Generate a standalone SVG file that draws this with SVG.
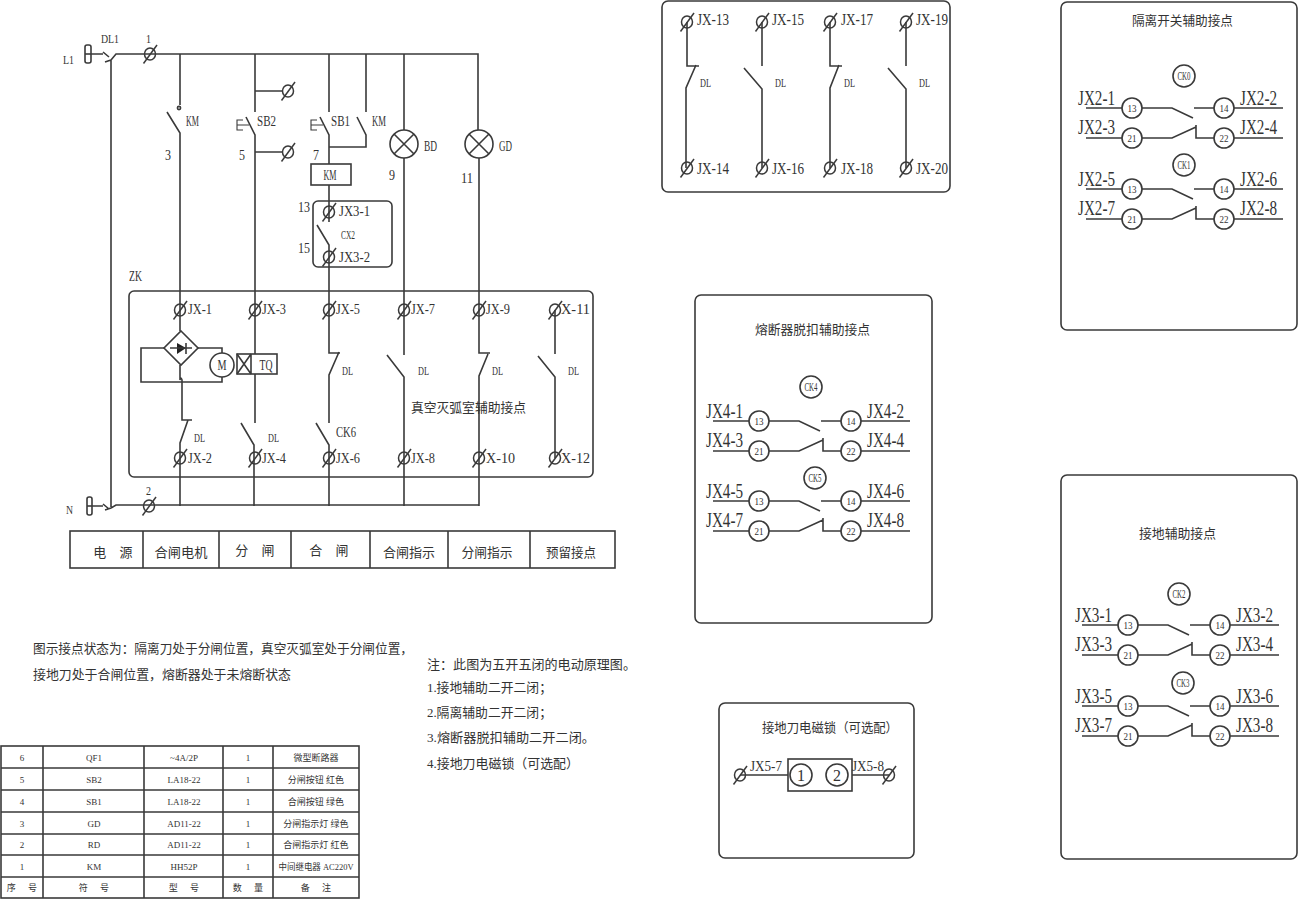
<svg xmlns="http://www.w3.org/2000/svg" width="1300" height="899" viewBox="0 0 1300 899">
<style>
.w{fill:none;stroke:#3a3a3a;stroke-width:1.6}
.b{fill:none;stroke:#3a3a3a;stroke-width:1.6}
.o{fill:#fff;stroke:#3a3a3a;stroke-width:1.6}
.t{stroke:#3a3a3a;stroke-width:1.5;fill:none}
.thin{stroke:#3a3a3a;stroke-width:1.1;fill:none}
text{fill:#333}
.l{font-family:"Liberation Serif","DejaVu Serif",serif}
.c{font-family:"Liberation Serif","Noto Sans CJK SC",sans-serif;font-size:13px}
.m{text-anchor:middle}
.s9{font-size:9px}.s10{font-size:11px}.s11{font-size:13px}.s12{font-size:13px}.s13{font-size:15px}.s14{font-size:15px}.s15{font-size:16px}.s20{font-size:20px}
.sp{word-spacing:10px}
.tc{font-size:9px;text-anchor:middle}
</style>
<defs>
<g id="term"><ellipse cx="0" cy="0" rx="5.5" ry="6" class="t"/><path d="M-6.5 9.5 7 -9" class="t"/></g>
<g id="cc">
<path class="w" d="M0 0H36M56 0H86L107 10M108 0H128M148 0H197M0 30H36M56 30H86L110 19M110 17V30H128M148 30H197"/>
<circle cx="46" cy="0" r="10" class="o"/><circle cx="46" cy="30" r="10" class="o"/><circle cx="138" cy="0" r="10" class="o"/><circle cx="138" cy="30" r="10" class="o"/>
</g>
</defs>
<rect width="1300" height="899" fill="#fff"/>

<g id="connectors">
<path class="w" d="M91 54H103M103 52L109 57M111 60L105 62M111 60L116 54H478V130M111 60V507M92 506H103M103 504L109 509M111 508L105 510M111 508L116 505H479"/>
<path class="w" d="M180 54V105M167 112L180 133V331M180 365V380Q181 376 182 380V420H192M188 420L180 443V506"/>
<path class="w" d="M255 54V112M246 117L255 135V354M255 374V423M241 423L254 445V506M255 91H283M255 152H283"/>
<path class="w" d="M329 54V112M320 117L329 135V164M329 185V222M317 225L329 245V353H340M339 352L329 375V423M316 423L329 445V506"/>
<path class="w" d="M366 54V112M357 117L366 135V147H329"/>
<path class="w" d="M404 54V130M404 158V355M387 355L404 377V506"/>
<path class="w" d="M479 158V353H490M488 354L479 376V506"/>
<path class="w" d="M555 310V354M538 356L555 377V458"/>
<path class="w" d="M164 348H141V382H222V377M198 348H222V353"/>
<path class="w" d="M687 22V66H699M696 65L686 88V168M762 22V66M744 68L762 89V168M830 22V66H842M839 65L830 88V168M906 22V66M888 68L906 89V168"/>
<path class="w" d="M740 775H788M852 775H889"/>
</g>

<g id="L1-source">
<rect x="85" y="45" width="6" height="18" rx="2" class="o"/><path class="w" d="M85 54H91"/>
<text class="l s11" x="63" y="64" textLength="11" lengthAdjust="spacingAndGlyphs">L1</text>
<text class="l s11" x="101" y="43" textLength="18" lengthAdjust="spacingAndGlyphs">DL1</text>
<text class="l s11" x="146" y="43" textLength="5" lengthAdjust="spacingAndGlyphs">1</text>
<use href="#term" x="150" y="54"/>
</g>
<g id="N-source">
<rect x="87" y="497" width="5" height="18" rx="2" class="o"/><path class="w" d="M87 506H92"/>
<text class="l s11" x="66" y="514" textLength="7" lengthAdjust="spacingAndGlyphs">N</text>
<text class="l s11" x="146" y="495" textLength="5" lengthAdjust="spacingAndGlyphs">2</text>
<use href="#term" x="149" y="506"/>
</g>
<g id="KM3">
<circle cx="179" cy="108" r="1.6" class="w"/>
<text class="l s13" x="186" y="126" textLength="13" lengthAdjust="spacingAndGlyphs">KM</text>
<text class="l s13" x="165" y="160" textLength="6" lengthAdjust="spacingAndGlyphs">3</text>
</g>
<g id="SB2">
<path class="thin" d="M243 120H237V130H243M237 125H249"/>
<text class="l s14" x="257" y="126" textLength="19" lengthAdjust="spacingAndGlyphs">SB2</text>
<text class="l s13" x="239" y="160" textLength="6" lengthAdjust="spacingAndGlyphs">5</text>
<use href="#term" x="288" y="91"/><use href="#term" x="288" y="152"/>
</g>
<g id="SB1">
<path class="thin" d="M317 120H311V130H317M311 125H323"/>
<text class="l s14" x="331" y="126" textLength="19" lengthAdjust="spacingAndGlyphs">SB1</text>
<text class="l s13" x="372" y="126" textLength="14" lengthAdjust="spacingAndGlyphs">KM</text>
<text class="l s13" x="313" y="160" textLength="6" lengthAdjust="spacingAndGlyphs">7</text>
</g>
<g id="KM-coil">
<rect x="311" y="164" width="40" height="21" class="o"/>
<text class="l s13 m" x="330" y="180" textLength="13" lengthAdjust="spacingAndGlyphs">KM</text>
</g>
<g id="BD">
<circle cx="404" cy="144" r="14" class="o"/><path class="w" d="M394 134L414 154M414 134L394 154"/>
<text class="l s13" x="424" y="151" textLength="13" lengthAdjust="spacingAndGlyphs">BD</text>
<text class="l s13" x="389" y="180" textLength="6" lengthAdjust="spacingAndGlyphs">9</text>
</g>
<g id="GD">
<circle cx="479" cy="144" r="14" class="o"/><path class="w" d="M469 134L489 154M489 134L469 154"/>
<text class="l s13" x="499" y="151" textLength="13" lengthAdjust="spacingAndGlyphs">GD</text>
<text class="l s14" x="461" y="183" textLength="12" lengthAdjust="spacingAndGlyphs">11</text>
</g>
<g id="CK2-box">
<rect x="313" y="201" width="79" height="66" rx="5" class="b"/>
<use href="#term" x="329" y="212"/><use href="#term" x="329" y="257"/>
<text class="l s13" x="339" y="216" textLength="31" lengthAdjust="spacingAndGlyphs">JX3-1</text>
<text class="l s13" x="339" y="262" textLength="31" lengthAdjust="spacingAndGlyphs">JX3-2</text>
<text class="l s11" x="341" y="239" textLength="14" lengthAdjust="spacingAndGlyphs">CX2</text>
<text class="l s13" x="298" y="212" textLength="12" lengthAdjust="spacingAndGlyphs">13</text>
<text class="l s13" x="298" y="253" textLength="12" lengthAdjust="spacingAndGlyphs">15</text>
</g>
<g id="ZK">
<rect x="129" y="291" width="464" height="186" rx="5" class="b"/>
<text class="l s13" x="129" y="281" textLength="13" lengthAdjust="spacingAndGlyphs">ZK</text>
<use href="#term" x="180" y="310"/><use href="#term" x="255" y="310"/><use href="#term" x="329" y="310"/><use href="#term" x="404" y="310"/><use href="#term" x="479" y="310"/><use href="#term" x="555" y="310"/>
<use href="#term" x="180" y="458"/><use href="#term" x="255" y="458"/><use href="#term" x="329" y="458"/><use href="#term" x="404" y="458"/><use href="#term" x="479" y="458"/><use href="#term" x="555" y="458"/>
<text class="l s14" x="188" y="314" textLength="24" lengthAdjust="spacingAndGlyphs">JX-1</text>
<text class="l s14" x="262" y="314" textLength="24" lengthAdjust="spacingAndGlyphs">JX-3</text>
<text class="l s14" x="336" y="314" textLength="24" lengthAdjust="spacingAndGlyphs">JX-5</text>
<text class="l s14" x="411" y="314" textLength="24" lengthAdjust="spacingAndGlyphs">JX-7</text>
<text class="l s14" x="486" y="314" textLength="24" lengthAdjust="spacingAndGlyphs">JX-9</text>
<text class="l s14" x="561" y="314" textLength="29" lengthAdjust="spacingAndGlyphs">X-11</text>
<text class="l s14" x="188" y="463" textLength="24" lengthAdjust="spacingAndGlyphs">JX-2</text>
<text class="l s14" x="262" y="463" textLength="24" lengthAdjust="spacingAndGlyphs">JX-4</text>
<text class="l s14" x="336" y="463" textLength="24" lengthAdjust="spacingAndGlyphs">JX-6</text>
<text class="l s14" x="411" y="463" textLength="24" lengthAdjust="spacingAndGlyphs">JX-8</text>
<text class="l s14" x="486" y="463" textLength="29" lengthAdjust="spacingAndGlyphs">X-10</text>
<text class="l s14" x="561" y="463" textLength="29" lengthAdjust="spacingAndGlyphs">X-12</text>
<text class="l s12" x="194" y="442" textLength="11" lengthAdjust="spacingAndGlyphs">DL</text>
<text class="l s12" x="268" y="442" textLength="11" lengthAdjust="spacingAndGlyphs">DL</text>
<text class="l s14" x="336" y="437" textLength="20" lengthAdjust="spacingAndGlyphs">CK6</text>
<text class="l s12" x="342" y="375" textLength="11" lengthAdjust="spacingAndGlyphs">DL</text>
<text class="l s12" x="418" y="375" textLength="11" lengthAdjust="spacingAndGlyphs">DL</text>
<text class="l s12" x="492" y="375" textLength="11" lengthAdjust="spacingAndGlyphs">DL</text>
<text class="l s12" x="568" y="375" textLength="11" lengthAdjust="spacingAndGlyphs">DL</text>
<text class="c" x="411" y="412" textLength="115" lengthAdjust="spacingAndGlyphs">真空灭弧室辅助接点</text>
</g>
<g id="bridge">
<path class="o" d="M181 331L198 348L181 365L164 348Z"/>
<path d="M177 343L186 348L177 354Z" fill="#222"/><path class="w" d="M186 343V354M170 348H192"/>
</g>
<g id="motor">
<circle cx="222" cy="365" r="12" class="o"/>
<text class="l s13 m" x="222" y="370" textLength="9" lengthAdjust="spacingAndGlyphs">M</text>
</g>
<g id="TQ">
<rect x="237" y="354" width="40" height="20" class="o"/>
<path class="w" d="M251 354V374M237 354L251 374M251 354L237 374"/>
<text class="l s13 m" x="266" y="370" textLength="13" lengthAdjust="spacingAndGlyphs">TQ</text>
</g>
<g id="function-table">
<rect x="70" y="531" width="545" height="37" class="b"/>
<path class="b" d="M143 531V568M219 531V568M291 531V568M370 531V568M448 531V568M530 531V568"/>
<text class="c m sp" x="113" y="557">电 源</text>
<text class="c m" x="181" y="557" textLength="53" lengthAdjust="spacingAndGlyphs">合闸电机</text>
<text class="c m sp" x="255" y="555">分 闸</text>
<text class="c m sp" x="329" y="555">合 闸</text>
<text class="c m" x="409" y="557" textLength="52" lengthAdjust="spacingAndGlyphs">合闸指示</text>
<text class="c m" x="487" y="557" textLength="51" lengthAdjust="spacingAndGlyphs">分闸指示</text>
<text class="c m" x="571" y="557" textLength="50" lengthAdjust="spacingAndGlyphs">预留接点</text>
</g>

<g id="notes">
<text class="c" x="33" y="653" textLength="380" lengthAdjust="spacingAndGlyphs">图示接点状态为：隔离刀处于分闸位置，真空灭弧室处于分闸位置，</text>
<text class="c" x="33" y="679" textLength="258" lengthAdjust="spacingAndGlyphs">接地刀处于合闸位置，熔断器处于未熔断状态</text>
<text class="c" x="427" y="669" textLength="209" lengthAdjust="spacingAndGlyphs">注：此图为五开五闭的电动原理图。</text>
<text class="c" x="427" y="692" textLength="125" lengthAdjust="spacingAndGlyphs">1.接地辅助二开二闭；</text>
<text class="c" x="427" y="717" textLength="125" lengthAdjust="spacingAndGlyphs">2.隔离辅助二开二闭；</text>
<text class="c" x="427" y="742" textLength="168" lengthAdjust="spacingAndGlyphs">3.熔断器脱扣辅助二开二闭。</text>
<text class="c" x="427" y="768" textLength="152" lengthAdjust="spacingAndGlyphs">4.接地刀电磁锁（可选配）</text>
</g>

<g id="parts-table">
<rect x="1" y="746" width="358" height="152" class="b"/>
<path class="b" d="M43 746V898M144 746V898M223 746V898M273 746V898M1 768H359M1 790H359M1 812H359M1 834H359M1 855H359M1 877H359"/>
<g class="l">
<text class="tc" x="22" y="761">6</text><text class="tc" x="94" y="761">QF1</text><text class="tc" x="184" y="761">~4A/2P</text><text class="tc" x="248" y="761">1</text>
<text class="tc" x="22" y="783">5</text><text class="tc" x="94" y="783">SB2</text><text class="tc" x="184" y="783">LA18-22</text><text class="tc" x="248" y="783">1</text>
<text class="tc" x="22" y="805">4</text><text class="tc" x="94" y="805">SB1</text><text class="tc" x="184" y="805">LA18-22</text><text class="tc" x="248" y="805">1</text>
<text class="tc" x="22" y="827">3</text><text class="tc" x="94" y="827">GD</text><text class="tc" x="184" y="827">AD11-22</text><text class="tc" x="248" y="827">1</text>
<text class="tc" x="22" y="848">2</text><text class="tc" x="94" y="848">RD</text><text class="tc" x="184" y="848">AD11-22</text><text class="tc" x="248" y="848">1</text>
<text class="tc" x="22" y="870">1</text><text class="tc" x="94" y="870">KM</text><text class="tc" x="184" y="870">HH52P</text><text class="tc" x="248" y="870">1</text>
</g>
<g style="font-family:'Liberation Serif','Noto Sans CJK SC',sans-serif">
<text class="tc" x="316" y="761">微型断路器</text>
<text class="tc" x="316" y="783">分闸按钮 红色</text>
<text class="tc" x="316" y="805">合闸按钮 绿色</text>
<text class="tc" x="316" y="827">分闸指示灯 绿色</text>
<text class="tc" x="316" y="848">合闸指示灯 红色</text>
<text class="tc" x="316" y="870" textLength="75" lengthAdjust="spacingAndGlyphs">中间继电器 AC220V</text>
<text class="tc sp" x="22" y="891">序 号</text>
<text class="tc sp" x="94" y="891">符 号</text>
<text class="tc sp" x="184" y="891">型 号</text>
<text class="tc sp" x="248" y="891">数 量</text>
<text class="tc sp" x="316" y="891">备 注</text>
</g>
</g>

<g id="panel-JX13-20">
<rect x="662" y="1" width="288" height="191" rx="6" class="b"/>
<use href="#term" x="687" y="22"/><use href="#term" x="762" y="22"/><use href="#term" x="830" y="22"/><use href="#term" x="906" y="22"/>
<use href="#term" x="687" y="168"/><use href="#term" x="762" y="168"/><use href="#term" x="830" y="168"/><use href="#term" x="906" y="168"/>
<text class="l s15" x="697" y="25" textLength="32" lengthAdjust="spacingAndGlyphs">JX-13</text>
<text class="l s15" x="772" y="25" textLength="32" lengthAdjust="spacingAndGlyphs">JX-15</text>
<text class="l s15" x="841" y="25" textLength="32" lengthAdjust="spacingAndGlyphs">JX-17</text>
<text class="l s15" x="916" y="25" textLength="32" lengthAdjust="spacingAndGlyphs">JX-19</text>
<text class="l s15" x="697" y="174" textLength="32" lengthAdjust="spacingAndGlyphs">JX-14</text>
<text class="l s15" x="772" y="174" textLength="32" lengthAdjust="spacingAndGlyphs">JX-16</text>
<text class="l s15" x="841" y="174" textLength="32" lengthAdjust="spacingAndGlyphs">JX-18</text>
<text class="l s15" x="916" y="174" textLength="32" lengthAdjust="spacingAndGlyphs">JX-20</text>
<text class="l s12" x="700" y="87" textLength="11" lengthAdjust="spacingAndGlyphs">DL</text>
<text class="l s12" x="775" y="87" textLength="11" lengthAdjust="spacingAndGlyphs">DL</text>
<text class="l s12" x="844" y="87" textLength="11" lengthAdjust="spacingAndGlyphs">DL</text>
<text class="l s12" x="919" y="87" textLength="11" lengthAdjust="spacingAndGlyphs">DL</text>
</g>

<g id="panel-isolator">
<rect x="1061" y="2" width="236" height="328" rx="6" class="b"/>
<text class="c" x="1132" y="25" textLength="101" lengthAdjust="spacingAndGlyphs">隔离开关辅助接点</text>
<circle cx="1184" cy="76" r="11" class="o"/><text class="l s12 m" x="1184" y="80" textLength="13" lengthAdjust="spacingAndGlyphs">CK0</text>
<circle cx="1184" cy="165" r="11" class="o"/><text class="l s12 m" x="1184" y="169" textLength="13" lengthAdjust="spacingAndGlyphs">CK1</text>
<g transform="translate(1086 108)"><use href="#cc"/>
<text class="l s20" x="-8" y="-3" textLength="37" lengthAdjust="spacingAndGlyphs">JX2-1</text><text class="l s20" x="-8" y="26" textLength="37" lengthAdjust="spacingAndGlyphs">JX2-3</text>
<text class="l s20" x="154" y="-3" textLength="37" lengthAdjust="spacingAndGlyphs">JX2-2</text><text class="l s20" x="154" y="26" textLength="37" lengthAdjust="spacingAndGlyphs">JX2-4</text>
<text class="l s10 m" x="46" y="4" textLength="9" lengthAdjust="spacingAndGlyphs">13</text><text class="l s10 m" x="46" y="34" textLength="9" lengthAdjust="spacingAndGlyphs">21</text>
<text class="l s10 m" x="138" y="4" textLength="9" lengthAdjust="spacingAndGlyphs">14</text><text class="l s10 m" x="138" y="34" textLength="9" lengthAdjust="spacingAndGlyphs">22</text>
</g>
<g transform="translate(1086 189)"><use href="#cc"/>
<text class="l s20" x="-8" y="-3" textLength="37" lengthAdjust="spacingAndGlyphs">JX2-5</text><text class="l s20" x="-8" y="26" textLength="37" lengthAdjust="spacingAndGlyphs">JX2-7</text>
<text class="l s20" x="154" y="-3" textLength="37" lengthAdjust="spacingAndGlyphs">JX2-6</text><text class="l s20" x="154" y="26" textLength="37" lengthAdjust="spacingAndGlyphs">JX2-8</text>
<text class="l s10 m" x="46" y="4" textLength="9" lengthAdjust="spacingAndGlyphs">13</text><text class="l s10 m" x="46" y="34" textLength="9" lengthAdjust="spacingAndGlyphs">21</text>
<text class="l s10 m" x="138" y="4" textLength="9" lengthAdjust="spacingAndGlyphs">14</text><text class="l s10 m" x="138" y="34" textLength="9" lengthAdjust="spacingAndGlyphs">22</text>
</g>
</g>

<g id="panel-fuse">
<rect x="695" y="295" width="237" height="328" rx="6" class="b"/>
<text class="c" x="755" y="334" textLength="115" lengthAdjust="spacingAndGlyphs">熔断器脱扣辅助接点</text>
<circle cx="811" cy="387" r="11" class="o"/><text class="l s12 m" x="811" y="391" textLength="13" lengthAdjust="spacingAndGlyphs">CK4</text>
<circle cx="815" cy="478" r="11" class="o"/><text class="l s12 m" x="815" y="482" textLength="13" lengthAdjust="spacingAndGlyphs">CK5</text>
<g transform="translate(713 421)"><use href="#cc"/>
<text class="l s20" x="-7" y="-3" textLength="37" lengthAdjust="spacingAndGlyphs">JX4-1</text><text class="l s20" x="-7" y="26" textLength="37" lengthAdjust="spacingAndGlyphs">JX4-3</text>
<text class="l s20" x="154" y="-3" textLength="37" lengthAdjust="spacingAndGlyphs">JX4-2</text><text class="l s20" x="154" y="26" textLength="37" lengthAdjust="spacingAndGlyphs">JX4-4</text>
<text class="l s10 m" x="46" y="4" textLength="9" lengthAdjust="spacingAndGlyphs">13</text><text class="l s10 m" x="46" y="34" textLength="9" lengthAdjust="spacingAndGlyphs">21</text>
<text class="l s10 m" x="138" y="4" textLength="9" lengthAdjust="spacingAndGlyphs">14</text><text class="l s10 m" x="138" y="34" textLength="9" lengthAdjust="spacingAndGlyphs">22</text>
</g>
<g transform="translate(713 501)"><use href="#cc"/>
<text class="l s20" x="-7" y="-3" textLength="37" lengthAdjust="spacingAndGlyphs">JX4-5</text><text class="l s20" x="-7" y="26" textLength="37" lengthAdjust="spacingAndGlyphs">JX4-7</text>
<text class="l s20" x="154" y="-3" textLength="37" lengthAdjust="spacingAndGlyphs">JX4-6</text><text class="l s20" x="154" y="26" textLength="37" lengthAdjust="spacingAndGlyphs">JX4-8</text>
<text class="l s10 m" x="46" y="4" textLength="9" lengthAdjust="spacingAndGlyphs">13</text><text class="l s10 m" x="46" y="34" textLength="9" lengthAdjust="spacingAndGlyphs">21</text>
<text class="l s10 m" x="138" y="4" textLength="9" lengthAdjust="spacingAndGlyphs">14</text><text class="l s10 m" x="138" y="34" textLength="9" lengthAdjust="spacingAndGlyphs">22</text>
</g>
</g>

<g id="panel-earth">
<rect x="1061" y="475" width="236" height="384" rx="6" class="b"/>
<text class="c" x="1139" y="538" textLength="77" lengthAdjust="spacingAndGlyphs">接地辅助接点</text>
<circle cx="1179" cy="594" r="11" class="o"/><text class="l s12 m" x="1179" y="598" textLength="13" lengthAdjust="spacingAndGlyphs">CK2</text>
<circle cx="1183" cy="683" r="11" class="o"/><text class="l s12 m" x="1183" y="687" textLength="13" lengthAdjust="spacingAndGlyphs">CK3</text>
<g transform="translate(1082 625)"><use href="#cc"/>
<text class="l s20" x="-7" y="-3" textLength="37" lengthAdjust="spacingAndGlyphs">JX3-1</text><text class="l s20" x="-7" y="26" textLength="37" lengthAdjust="spacingAndGlyphs">JX3-3</text>
<text class="l s20" x="154" y="-3" textLength="37" lengthAdjust="spacingAndGlyphs">JX3-2</text><text class="l s20" x="154" y="26" textLength="37" lengthAdjust="spacingAndGlyphs">JX3-4</text>
<text class="l s10 m" x="46" y="4" textLength="9" lengthAdjust="spacingAndGlyphs">13</text><text class="l s10 m" x="46" y="34" textLength="9" lengthAdjust="spacingAndGlyphs">21</text>
<text class="l s10 m" x="138" y="4" textLength="9" lengthAdjust="spacingAndGlyphs">14</text><text class="l s10 m" x="138" y="34" textLength="9" lengthAdjust="spacingAndGlyphs">22</text>
</g>
<g transform="translate(1082 706)"><use href="#cc"/>
<text class="l s20" x="-7" y="-3" textLength="37" lengthAdjust="spacingAndGlyphs">JX3-5</text><text class="l s20" x="-7" y="26" textLength="37" lengthAdjust="spacingAndGlyphs">JX3-7</text>
<text class="l s20" x="154" y="-3" textLength="37" lengthAdjust="spacingAndGlyphs">JX3-6</text><text class="l s20" x="154" y="26" textLength="37" lengthAdjust="spacingAndGlyphs">JX3-8</text>
<text class="l s10 m" x="46" y="4" textLength="9" lengthAdjust="spacingAndGlyphs">13</text><text class="l s10 m" x="46" y="34" textLength="9" lengthAdjust="spacingAndGlyphs">21</text>
<text class="l s10 m" x="138" y="4" textLength="9" lengthAdjust="spacingAndGlyphs">14</text><text class="l s10 m" x="138" y="34" textLength="9" lengthAdjust="spacingAndGlyphs">22</text>
</g>
</g>

<g id="panel-lock">
<rect x="719" y="703" width="195" height="155" rx="6" class="b"/>
<text class="c" x="762" y="732" textLength="136" lengthAdjust="spacingAndGlyphs">接地刀电磁锁（可选配）</text>
<use href="#term" x="740" y="775"/><use href="#term" x="889" y="775"/>
<rect x="788" y="759" width="64" height="32" class="o"/>
<circle cx="801" cy="775" r="11" class="o"/><circle cx="837" cy="775" r="11" class="o"/>
<text class="l s15 m" x="801" y="781">1</text><text class="l s15 m" x="837" y="781">2</text>
<text class="l s14" x="750" y="771" textLength="32" lengthAdjust="spacingAndGlyphs">JX5-7</text>
<text class="l s14" x="852" y="771" textLength="32" lengthAdjust="spacingAndGlyphs">JX5-8</text>
</g>
</svg>
